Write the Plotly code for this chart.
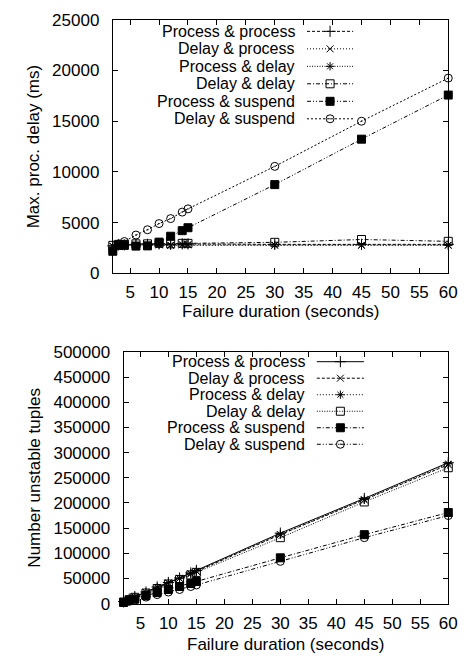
import plotly.graph_objects as go

# ---------------- data ----------------
durations = [2, 3, 4, 6, 8, 10, 12, 14, 15, 30, 45, 60]
series_names = ["Process & process", "Delay & process", "Process & delay",
                "Delay & delay", "Process & suspend", "Delay & suspend"]

# Max. processing delay (ms)
delay_proc_proc = [2700, 2800, 2800, 2850, 2850, 2900, 2850, 2900, 2900, 2850, 2850, 2850]
delay_delay_proc = [2650, 2750, 2750, 2750, 2800, 2800, 2750, 2800, 2800, 2750, 2750, 2750]
delay_proc_delay = [2700, 2750, 2800, 2800, 2800, 2850, 2800, 2850, 2850, 2800, 2800, 2800]
delay_delay_delay = [2750, 2850, 2850, 2900, 2900, 2950, 2900, 2950, 2950, 3050, 3330, 3150]
delay_proc_susp = [2170, 2750, 2750, 2680, 2700, 3070, 3650, 4200, 4490, 8740, 13220, 17570]
delay_delay_susp = [2250, 2900, 3130, 3770, 4290, 4900, 5390, 6030, 6350, 10540, 14990, 19240]

# Number of unstable tuples
tuples_proc_proc = [4000, 9000, 14000, 23000, 33000, 42000, 51000, 61000, 66000, 140000, 209000, 280000]
tuples_delay_proc = [3500, 8500, 13000, 22000, 32000, 41000, 50000, 59000, 64000, 137000, 206000, 276000]
tuples_proc_delay = [3800, 8800, 13500, 22500, 32500, 41500, 50500, 60000, 65000, 138000, 207000, 278000]
tuples_delay_delay = [3000, 8000, 12500, 21000, 30000, 39000, 48000, 57000, 62000, 131000, 202000, 270000]
tuples_proc_susp = [2500, 6000, 9000, 16000, 22000, 28000, 34000, 40000, 44000, 91000, 137000, 181000]
tuples_delay_susp = [1500, 4500, 7000, 13000, 18000, 23000, 28000, 34000, 37000, 84000, 131000, 175000]

x_ticks = [5, 10, 15, 20, 25, 30, 35, 40, 45, 50, 55, 60]
top_y_ticks = [0, 5000, 10000, 15000, 20000, 25000]
bottom_y_ticks = [0, 50000, 100000, 150000, 200000, 250000, 300000, 350000, 400000, 450000, 500000]

top_values = [delay_proc_proc, delay_delay_proc, delay_proc_delay,
              delay_delay_delay, delay_proc_susp, delay_delay_susp]
bottom_values = [tuples_proc_proc, tuples_delay_proc, tuples_proc_delay,
                 tuples_delay_delay, tuples_proc_susp, tuples_delay_susp]

# ---------------- styles ----------------
symbols = ["cross-thin-open", "x-thin-open", "asterisk-open",
           "square-open", "square", "circle-open-dot"]
sizes = [8, 7, 7, 8, 8, 8]
top_dashes = ["3px,2px", "1px,2px", "1px,1.5px", "4px,2px,1px,2px",
              "4px,2px,1px,2px,1px,2px", "2px,2px"]
bottom_dashes = ["solid", "3px,2px", "1px,2px", "1px,1.5px",
                 "4px,2px,1px,2px", "4px,2px,1px,2px,1px,2px"]

W, H = 471, 669
FONT = "Liberation Sans, Arial, sans-serif"
FS = 17

fig = go.Figure()


def add_series(values, dashes, xa, ya):
    for i, vals in enumerate(values):
        fig.add_trace(go.Scatter(
            x=durations, y=vals, mode="lines+markers", xaxis=xa, yaxis=ya,
            line=dict(color="black", width=1, dash=dashes[i]),
            marker=dict(symbol=symbols[i], size=sizes[i], color="black",
                        line=dict(color="black", width=1)),
            cliponaxis=False, showlegend=False, name=series_names[i]))


add_series(top_values, top_dashes, "x", "y")
add_series(bottom_values, bottom_dashes, "x2", "y2")

# ---------------- key (gnuplot style: text, then sample) ----------------
def add_key(dashes, text_right, y0, dy, sx0, sx1, fs):
    for i, name in enumerate(series_names):
        yy = y0 + dy * i
        fig.add_annotation(x=text_right / W, y=1 - yy / H, xref="paper", yref="paper",
                           text=name, showarrow=False, xanchor="right", yanchor="middle",
                           font=dict(family=FONT, size=fs, color="black"))
        fig.add_trace(go.Scatter(x=[sx0, sx1], y=[yy, yy], mode="lines", xaxis="x3", yaxis="y3",
                                 line=dict(color="black", width=1, dash=dashes[i]),
                                 cliponaxis=False, showlegend=False, hoverinfo="skip"))
        fig.add_trace(go.Scatter(x=[(sx0 + sx1) / 2], y=[yy], mode="markers", xaxis="x3", yaxis="y3",
                                 marker=dict(symbol=symbols[i], size=sizes[i], color="black",
                                             line=dict(color="black", width=1)),
                                 cliponaxis=False, showlegend=False, hoverinfo="skip"))


add_key(top_dashes, 303, 23, 18, 313, 360, 16)
add_key(bottom_dashes, 313, 363, 17, 323, 371, 16)

axis_common = dict(showline=True, linecolor="black", linewidth=1, mirror="allticks",
                   ticks="inside", ticklen=5, tickcolor="black", tickwidth=1,
                   showgrid=False, zeroline=False, tickformat="d",
                   tickfont=dict(family=FONT, size=FS, color="black"))

fig.update_layout(
    width=W, height=H, margin=dict(l=0, r=0, t=0, b=0),
    paper_bgcolor="white", plot_bgcolor="rgba(0,0,0,0)", showlegend=False,
    hovermode=False,
    xaxis=dict(domain=[115 / W, 457 / W], range=[2, 60], tickvals=x_ticks,
               anchor="y", ticklabelstandoff=3, **axis_common),
    yaxis=dict(domain=[1 - 272 / H, 1 - 11 / H], range=[0, 25000], tickvals=top_y_ticks,
               anchor="x", ticklabelstandoff=9, **axis_common),
    xaxis2=dict(domain=[126 / W, 457 / W], range=[2, 60], tickvals=x_ticks,
                anchor="y2", ticklabelstandoff=4, **axis_common),
    yaxis2=dict(domain=[1 - 612 / H, 1 - 353 / H], range=[0, 500000], tickvals=bottom_y_ticks,
                anchor="x2", ticklabelstandoff=9, **axis_common),
    xaxis3=dict(domain=[0, 1], range=[0, W], visible=False, anchor="y3", fixedrange=True),
    yaxis3=dict(domain=[0, 1], range=[H, 0], visible=False, anchor="x3", fixedrange=True),
)

titles = [
    dict(text="Failure duration (seconds)", x=286 / W, y=1 - 311 / H, textangle=0),
    dict(text="Max. proc. delay (ms)", x=35 / W, y=1 - 142 / H, textangle=-90),
    dict(text="Failure duration (seconds)", x=291.5 / W, y=1 - 654 / H, textangle=0),
    dict(text="Number unstable tuples", x=35 / W, y=1 - 482 / H, textangle=-90),
]
for t in titles:
    fig.add_annotation(x=t["x"], y=t["y"], xref="paper", yref="paper", text=t["text"],
                       textangle=t["textangle"], showarrow=False,
                       xanchor="center", yanchor="middle",
                       font=dict(family=FONT, size=FS, color="black"))

fig.write_html("out.html", config={"displayModeBar": False},
               post_script="document.body.style.margin='0';document.body.style.overflow='hidden';")
